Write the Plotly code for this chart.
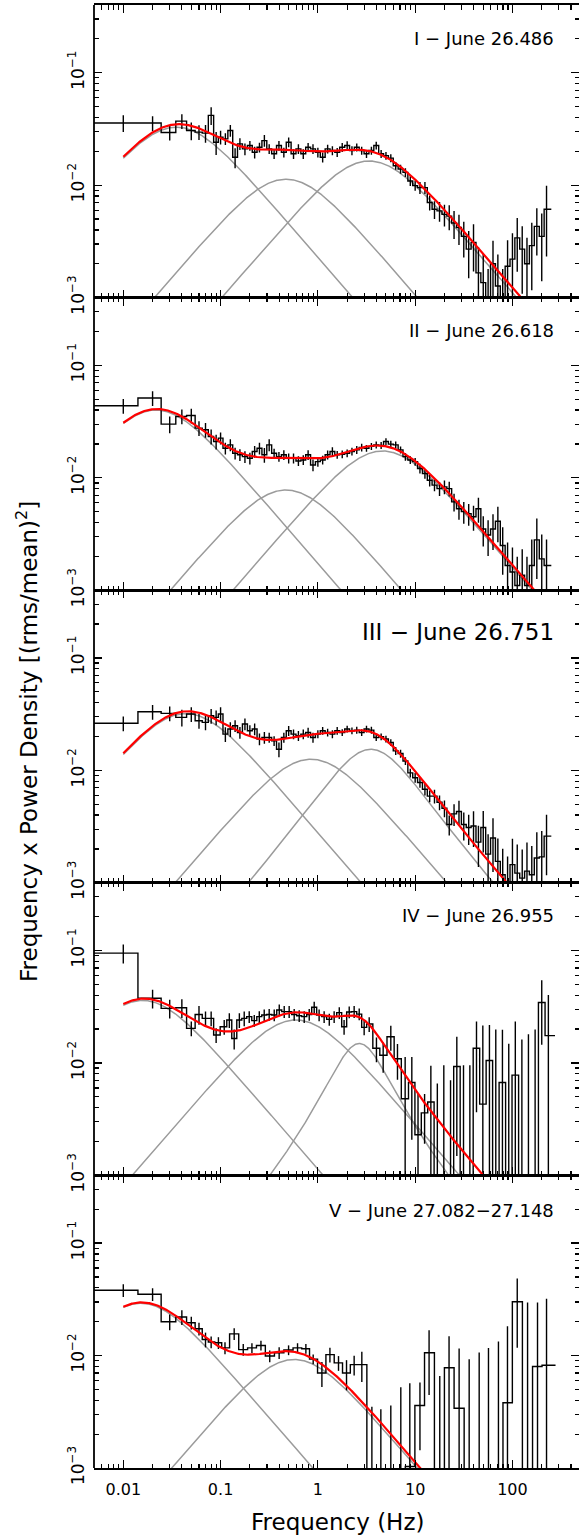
import numpy as np
import plotly.graph_objects as go
from plotly.subplots import make_subplots

# ---------------- data ----------------
FREQ_LOW = [0.01, 0.02, 0.03, 0.04, 0.05, 0.06, 0.07, 0.08, 0.09]
FREQ_GRID = [0.100, 0.112, 0.126, 0.141, 0.158, 0.178, 0.200, 0.224, 0.251, 0.282,
             0.316, 0.355, 0.398, 0.447, 0.501, 0.562, 0.631, 0.708, 0.794, 0.891,
             1.00, 1.12, 1.26, 1.41, 1.58, 1.78, 2.00, 2.24, 2.51, 2.82,
             3.16, 3.55, 3.98, 4.47, 5.01, 5.62, 6.31, 7.08, 7.94, 8.91,
             10.0, 11.2, 12.6, 14.1, 15.8, 17.8, 20.0, 22.4, 25.1, 28.2,
             31.6, 35.5, 39.8, 44.7, 50.1, 56.2, 63.1, 70.8, 79.4, 89.1,
             100, 112, 126, 141, 158, 178, 200, 224]

# Panel I
p1_val = [0.0357, 0.0357, 0.0294, 0.0371, 0.0306, 0.0296, 0.0290, 0.0417, 0.0241,
          0.0267, 0.0258, 0.0306, 0.0177, 0.0233, 0.0210, 0.0225, 0.0196, 0.0217, 0.0249,
          0.0210, 0.0190, 0.0225, 0.0196, 0.0241, 0.0190, 0.0210, 0.0190, 0.0217, 0.0210,
          0.0196, 0.0177, 0.0210, 0.0203, 0.0196, 0.0217, 0.0225, 0.0203, 0.0217, 0.0203,
          0.0190, 0.0203, 0.0225, 0.0190, 0.0183, 0.0174, 0.0149, 0.0139, 0.0130, 0.0109,
          0.0099, 0.0095, 0.0095, 0.0070, 0.0061, 0.0059, 0.0055, 0.0053, 0.0046, 0.0042,
          0.0035, 0.0027, 0.0031, 0.00166, 0.00136, 0.0009, 0.0020, 0.00127, 0.0009, 0.0019,
          0.0022, 0.0034, 0.0027, 0.0020, 0.0029, 0.0043, 0.0035, 0.0061]
p1_rel_err = [0.17, 0.15, 0.15, 0.15, 0.18, 0.15, 0.18, 0.18, 0.23,
              0.14, 0.12, 0.12, 0.20, 0.12, 0.12, 0.10, 0.12, 0.10, 0.12,
              0.10, 0.10, 0.10, 0.10, 0.10, 0.10, 0.10, 0.10, 0.09, 0.10,
              0.10, 0.10, 0.09, 0.09, 0.09, 0.09, 0.09, 0.09, 0.08, 0.08,
              0.08, 0.08, 0.08, 0.08, 0.08, 0.08, 0.08, 0.09, 0.09, 0.10,
              0.10, 0.12, 0.12, 0.15, 0.18, 0.20, 0.22, 0.25, 0.28, 0.30,
              0.35, 0.45, 0.45, 0.70, 0.80, 1.00, 0.60, 0.90, 1.00, 0.70,
              0.70, 0.50, 0.60, 0.70, 0.60, 0.45, 0.60, 0.62]

# Panel II
p2_val = [0.0437, 0.0512, 0.0300, 0.0351, 0.0358, 0.0276, 0.0267, 0.0233, 0.0210,
          0.0225, 0.0183, 0.0196, 0.0165, 0.0160, 0.0154, 0.0149, 0.0171, 0.0183, 0.0160,
          0.0196, 0.0165, 0.0154, 0.0160, 0.0149, 0.0149, 0.0141, 0.0144, 0.0160, 0.0130,
          0.0139, 0.0144, 0.0160, 0.0171, 0.0160, 0.0162, 0.0165, 0.0171, 0.0177, 0.0186,
          0.0183, 0.0190, 0.0196, 0.0194, 0.0210, 0.0199, 0.0196, 0.0177, 0.0154, 0.0144,
          0.0139, 0.0121, 0.0109, 0.0095, 0.0086, 0.0080, 0.0083, 0.0080, 0.0061, 0.0053,
          0.0050, 0.0048, 0.0045, 0.0053, 0.0035, 0.0031, 0.0035, 0.0041, 0.0025, 0.00166,
          0.00145, 0.0011, 0.00136, 0.0011, 0.00166, 0.0028, 0.0019, 0.00166]
p2_rel_err = [0.15, 0.15, 0.17, 0.15, 0.15, 0.15, 0.15, 0.15, 0.15,
              0.12, 0.12, 0.12, 0.12, 0.12, 0.12, 0.12, 0.12, 0.12, 0.15,
              0.12, 0.10, 0.10, 0.10, 0.10, 0.10, 0.10, 0.10, 0.10, 0.12,
              0.10, 0.09, 0.09, 0.09, 0.08, 0.08, 0.08, 0.08, 0.08, 0.08,
              0.07, 0.07, 0.07, 0.07, 0.07, 0.07, 0.07, 0.07, 0.08, 0.08,
              0.08, 0.10, 0.10, 0.12, 0.12, 0.14, 0.14, 0.15, 0.18, 0.20,
              0.22, 0.22, 0.25, 0.25, 0.30, 0.35, 0.35, 0.35, 0.45, 0.60,
              0.65, 0.80, 0.70, 0.80, 0.70, 0.55, 0.65, 0.70]

# Panel III
p3_val = [0.0262, 0.0332, 0.0321, 0.0296, 0.0317, 0.0276, 0.0267, 0.0306, 0.0296,
          0.0317, 0.0210, 0.0233, 0.0249, 0.0217, 0.0258, 0.0225, 0.0233, 0.0190, 0.0196,
          0.0196, 0.0183, 0.0154, 0.0196, 0.0225, 0.0210, 0.0203, 0.0210, 0.0217, 0.0196,
          0.0210, 0.0225, 0.0217, 0.0210, 0.0225, 0.0217, 0.0233, 0.0225, 0.0228, 0.0217,
          0.0233, 0.0228, 0.0196, 0.0199, 0.0190, 0.0177, 0.0149, 0.0141, 0.0121, 0.0095,
          0.0086, 0.0078, 0.0068, 0.0059, 0.0059, 0.0052, 0.0046, 0.0033, 0.0041, 0.0043,
          0.0033, 0.0031, 0.0032, 0.0023, 0.0031, 0.0018, 0.0025, 0.00155, 0.00118, 0.00095,
          0.00145, 0.00122, 0.0011, 0.00127, 0.00118, 0.00166, 0.0017, 0.0026]
p3_rel_err = [0.15, 0.15, 0.15, 0.17, 0.15, 0.15, 0.15, 0.15, 0.15,
              0.15, 0.15, 0.15, 0.12, 0.12, 0.12, 0.12, 0.12, 0.12, 0.12,
              0.10, 0.10, 0.15, 0.10, 0.10, 0.10, 0.10, 0.10, 0.10, 0.10,
              0.08, 0.08, 0.08, 0.08, 0.08, 0.07, 0.07, 0.07, 0.07, 0.07,
              0.07, 0.07, 0.07, 0.07, 0.07, 0.07, 0.08, 0.08, 0.08, 0.09,
              0.10, 0.10, 0.12, 0.12, 0.14, 0.15, 0.17, 0.20, 0.22, 0.25,
              0.28, 0.30, 0.35, 0.40, 0.40, 0.50, 0.50, 0.60, 0.70, 0.80,
              0.70, 0.80, 0.80, 0.80, 0.80, 0.70, 0.70, 0.55]

# Panel IV
p4_freq = [0.01, 0.02, 0.03, 0.04, 0.05, 0.06, 0.07, 0.08, 0.09,
           0.109, 0.123, 0.138, 0.156, 0.175, 0.197, 0.222, 0.250, 0.281, 0.316,
           0.356, 0.401, 0.451, 0.507, 0.571, 0.643, 0.724, 0.815, 0.917, 1.03,
           1.16, 1.31, 1.47, 1.66, 1.86, 2.10, 2.36, 2.66, 2.99, 3.37,
           4.00, 4.69, 5.62, 6.58,
           7.89, 9.24, 10.7, 12.5, 14.5, 16.9, 19.7, 23.1, 26.8, 31.4, 36.5, 42.7,
           49.6, 58.0, 67.4, 78.9, 91.6, 107, 125, 146, 171, 200, 234]
p4_val = [0.0948, 0.0376, 0.0306, 0.0310, 0.0203, 0.0270, 0.0249, 0.0249, 0.0177,
          0.0210, 0.0241, 0.0165, 0.0241, 0.0249, 0.0258, 0.0238, 0.0258, 0.0267, 0.0270,
          0.0267, 0.0296, 0.0286, 0.0286, 0.0270, 0.0263, 0.0258, 0.0270, 0.0313, 0.0267,
          0.0258, 0.0244, 0.0258, 0.0280, 0.0210, 0.0284, 0.0286, 0.0272, 0.0207, 0.0222,
          0.0135, 0.0117, 0.0171, 0.0109,
          0.0048, 0.0067, 0.0023, 0.0036, 0.0045, 0.0009, 0.0009, 0.0009, 0.0093, 0.0009,
          0.0009, 0.0135, 0.0043, 0.0105, 0.0009, 0.0067, 0.0009, 0.0078, 0.0009, 0.0009,
          0.0009, 0.0345, 0.0175]
p4_rel_err = [0.19, 0.19, 0.19, 0.19, 0.15, 0.19, 0.15, 0.15, 0.15,
              0.15, 0.15, 0.20, 0.15, 0.15, 0.12, 0.12, 0.12, 0.12, 0.12,
              0.12, 0.12, 0.12, 0.12, 0.12, 0.12, 0.12, 0.12, 0.12, 0.12,
              0.12, 0.12, 0.12, 0.12, 0.15, 0.12, 0.12, 0.12, 0.15, 0.15,
              0.25, 0.30, 0.25, 0.35,
              1.35, 0.69, 1.30, 0.47, 1.10, 6.3, 9.6, 6.8, 0.84, 9.6,
              9.6, 0.73, 4.0, 1.07, 21.0, 1.94, 15.5, 2.0, 17.0, 19.0,
              21.0, 0.58, 1.30]

# Panel V
p5_freq = [0.01, 0.02, 0.03, 0.04, 0.05, 0.06, 0.07, 0.08, 0.095,
           0.111, 0.138, 0.171, 0.21, 0.26, 0.32, 0.40, 0.50, 0.618, 0.753, 0.895,
           1.10, 1.33, 1.63, 1.97, 2.36, 2.83,
           3.59, 4.44, 5.62, 7.12, 8.81, 11.2, 13.9, 17.9, 22.3, 28.3, 35.9, 45.5,
           56.7, 71.8, 88.9, 112, 143, 181, 224]
p5_val = [0.0381, 0.0351, 0.0200, 0.0220, 0.0196, 0.0173, 0.0139, 0.0132, 0.0130,
          0.0117, 0.0156, 0.0113, 0.0117, 0.0123, 0.0099, 0.0106, 0.0112, 0.0117, 0.0115, 0.0093,
          0.0070, 0.0102, 0.0086, 0.0070, 0.0083, 0.0083,
          0.0009, 0.0009, 0.0009, 0.0009, 0.00103, 0.0036, 0.0106, 0.0009, 0.0078, 0.0034,
          0.0009, 0.0009, 0.0009, 0.0009, 0.0038, 0.0301, 0.0009, 0.0080, 0.0082]
p5_rel_err = [0.13, 0.13, 0.16, 0.15, 0.13, 0.13, 0.15, 0.12, 0.12,
              0.12, 0.12, 0.12, 0.10, 0.10, 0.12, 0.12, 0.10, 0.10, 0.10, 0.10,
              0.25, 0.15, 0.15, 0.30, 0.20, 0.30,
              2.9, 2.7, 3.0, 4.8, 4.5, 0.60, 0.58, 6.3, 0.90, 2.4,
              9.3, 10.8, 12.0, 13.8, 3.8, 0.61, 32.0, 2.7, 2.9]

# Lorentzian components: centroid (Hz), half width (Hz), peak of nu*P (rms/mean)^2
p1_nu0, p1_width, p1_peak = [0, 0, 0], [0.035, 0.47, 3.37], [0.0328, 0.0113, 0.0164]
p2_nu0, p2_width, p2_peak = [0, 0, 0], [0.0217, 0.47, 4.62], [0.0400, 0.00778, 0.0173]
p3_nu0, p3_width, p3_peak = [0, 0, 1.53], [0.044, 0.85, 3.15], [0.0320, 0.01256, 0.0154]
p4_nu0, p4_width, p4_peak = [0, 0, 2.05], [0.0158, 0.594, 1.70], [0.0360, 0.0241, 0.0149]
p5_nu0, p5_width, p5_peak = [0, 0], [0.0152, 0.571], [0.0292, 0.00923]

LABELS = ["I \u2212 June 26.486", "II \u2212 June 26.618", "III \u2212 June 26.751",
          "IV \u2212 June 26.955", "V \u2212 June 27.082\u221227.148"]

XTICK_VALS = [0.01, 0.1, 1, 10, 100]
XTICK_TEXT = ["0.01", "0.1", "1", "10", "100"]
YTICK_VALS = [0.001, 0.01, 0.1]
YTICK_TEXT = ["10<sup>\u22123</sup>", "10<sup>\u22122</sup>", "10<sup>\u22121</sup>"]

# ---------------- figure ----------------
panels = [
    (FREQ_LOW + FREQ_GRID, p1_val, p1_rel_err, p1_nu0, p1_width, p1_peak),
    (FREQ_LOW + FREQ_GRID, p2_val, p2_rel_err, p2_nu0, p2_width, p2_peak),
    (FREQ_LOW + FREQ_GRID, p3_val, p3_rel_err, p3_nu0, p3_width, p3_peak),
    (p4_freq, p4_val, p4_rel_err, p4_nu0, p4_width, p4_peak),
    (p5_freq, p5_val, p5_rel_err, p5_nu0, p5_width, p5_peak),
]


def lorentz_nuP(f, nu0, width, peak):
    numax = np.sqrt(nu0 ** 2 + width ** 2)
    g = f * width / (width ** 2 + (f - nu0) ** 2)
    gmax = numax * width / (width ** 2 + (numax - nu0) ** 2)
    return peak * g / gmax


fig = make_subplots(rows=5, cols=1, shared_xaxes=False, vertical_spacing=0)

fmodel = np.logspace(-2, 2.45, 700)
GRAY = "#9b9b9b"

for i, (fr, val, rel, nu0s, widths, peaks) in enumerate(panels, start=1):
    total = np.zeros_like(fmodel)
    for nu0, w, pk in zip(nu0s, widths, peaks):
        comp = lorentz_nuP(fmodel, nu0, w, pk)
        total += comp
        fig.add_trace(go.Scatter(x=fmodel, y=comp, mode="lines",
                                 line=dict(color=GRAY, width=1.5),
                                 showlegend=False, hoverinfo="skip"), row=i, col=1)
    # histogram outline (steps between bin centres, half bins at both ends)
    xl = fr[0] ** 2 / fr[1]
    xr = fr[-1] ** 2 / fr[-2]
    fig.add_trace(go.Scatter(x=[xl] + list(fr) + [xr], y=[val[0]] + list(val) + [val[-1]],
                             mode="lines", line=dict(shape="hvh", color="black", width=1.4),
                             showlegend=False, hoverinfo="skip"), row=i, col=1)
    err = [r * v for r, v in zip(rel, val)]
    fig.add_trace(go.Scatter(x=fr, y=val, mode="markers",
                             marker=dict(size=1, color="rgba(0,0,0,0)"),
                             error_y=dict(type="data", array=err, visible=True,
                                          color="black", thickness=1.4, width=0),
                             showlegend=False, hoverinfo="skip"), row=i, col=1)
    fig.add_trace(go.Scatter(x=fmodel, y=total, mode="lines",
                             line=dict(color="#ff0000", width=2.2),
                             showlegend=False, hoverinfo="skip"), row=i, col=1)

xminor = [k * 10.0 ** d for d in range(-3, 3) for k in range(2, 10)
          if 0.0049 < k * 10.0 ** d < 480]
yminor = [k * 10.0 ** d for d in range(-3, 0) for k in range(2, 10)
          if k * 10.0 ** d < 0.41]

XR = [np.log10(0.005), 2.684]
YR = [-3, np.log10(0.4)]

for i in range(1, 6):
    fig.update_xaxes(type="log", range=XR, showline=True, linecolor="black", linewidth=1.6,
                     mirror="ticks", ticks="inside", ticklen=8, tickwidth=1.2,
                     tickcolor="black", tickmode="array", tickvals=XTICK_VALS,
                     ticktext=XTICK_TEXT, showticklabels=(i == 5),
                     minor=dict(tickmode="array", tickvals=xminor, ticks="inside",
                                ticklen=4.5, tickwidth=1.2, tickcolor="black",
                                showgrid=False),
                     showgrid=False, zeroline=False, ticklabelstandoff=6,
                     tickfont=dict(size=16), automargin=False, row=i, col=1)
    fig.update_yaxes(type="log", range=YR, showline=False, mirror="ticks",
                     ticks="inside", ticklen=8, tickwidth=1.2, tickcolor="black",
                     tickmode="array", tickvals=YTICK_VALS, ticktext=YTICK_TEXT,
                     tickangle=-90,
                     minor=dict(tickmode="array", tickvals=yminor, ticks="inside",
                                ticklen=4.5, tickwidth=1.2, tickcolor="black",
                                showgrid=False),
                     showgrid=False, zeroline=False, ticklabelstandoff=6,
                     tickfont=dict(size=17), automargin=False, row=i, col=1)

# left frame line
fig.add_shape(type="line", xref="paper", yref="paper", x0=0, x1=0, y0=0, y1=1,
              line=dict(color="black", width=1.8))

W, H = 579, 1535
L, R, T, B = 94, 0, 5, 67
pw, ph = W - L - R, H - T - B


def px_x(x):
    return (x - L) / pw


def px_y(y):
    return 1 - (y - T) / ph


label_y = [38.3, 331, 632, 916, 1210]
label_size = [18, 18, 23, 18, 18]
for txt, yy, sz in zip(LABELS, label_y, label_size):
    fig.add_annotation(text=txt, xref="paper", yref="paper", x=px_x(556), y=px_y(yy),
                       xanchor="right", yanchor="middle", showarrow=False,
                       font=dict(size=sz, color="black"))

fig.add_annotation(text="Frequency (Hz)", xref="paper", yref="paper",
                   x=px_x(337.5), y=px_y(1522), xanchor="center", yanchor="middle",
                   showarrow=False, font=dict(size=23, color="black"))
fig.add_annotation(text="Frequency x Power Density [(rms/mean)<sup>2</sup>]",
                   xref="paper", yref="paper", x=px_x(27), y=px_y(742),
                   xanchor="center", yanchor="middle", textangle=-90,
                   showarrow=False, font=dict(size=23, color="black"))

fig.update_layout(width=W, height=H,
                  margin=dict(l=L, r=R, t=T, b=B, pad=0, autoexpand=False),
                  paper_bgcolor="white", plot_bgcolor="white", showlegend=False,
                  font=dict(family="DejaVu Sans", color="black", size=15))

fig.write_html("out.html", config={"displayModeBar": False, "staticPlot": True},
               post_script="document.body.style.margin='0px';"
                           "document.body.style.padding='0px';")
